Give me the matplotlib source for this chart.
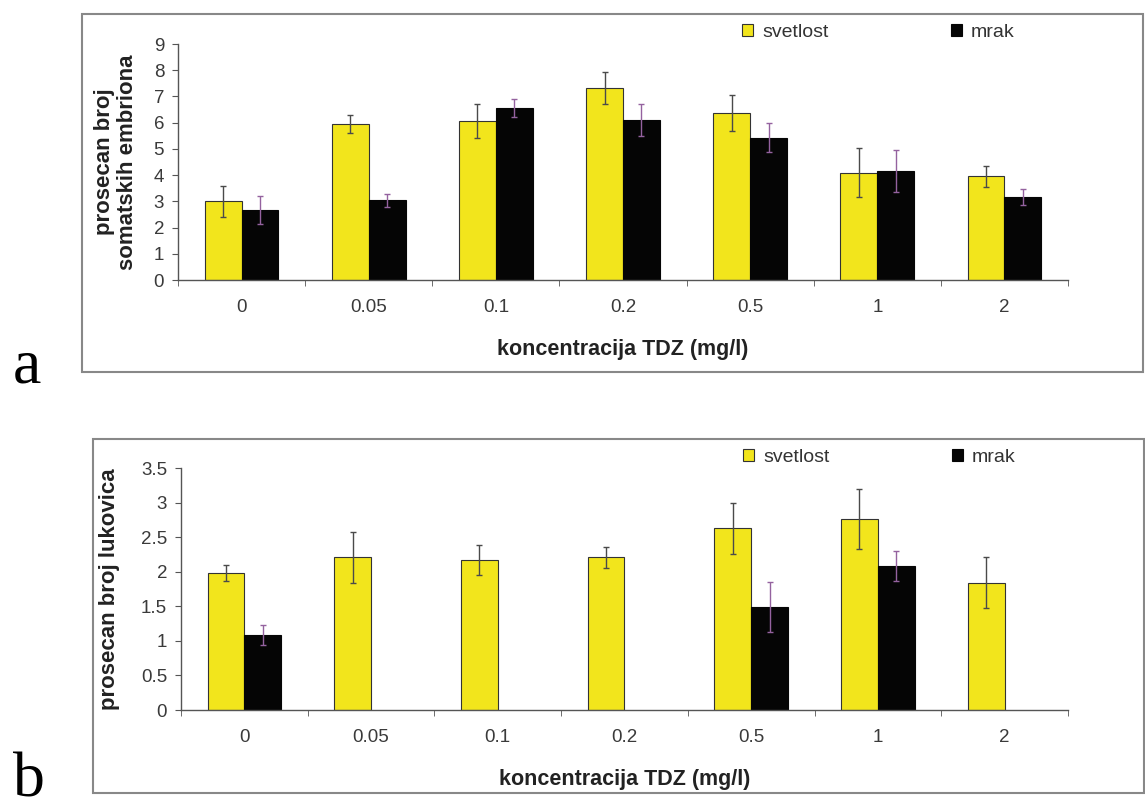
import numpy as np
import matplotlib
matplotlib.use('Agg')
from matplotlib import pyplot as plt
from matplotlib.patches import Rectangle

plt.rcParams['font.family'] = ['Liberation Sans', 'DejaVu Sans']

categories = ['0', '0.05', '0.1', '0.2', '0.5', '1', '2']
series_names = ['svetlost', 'mrak']

# panel a - prosecan broj somatskih embriona
a_svetlost = [3.0, 5.95, 6.05, 7.33, 6.37, 4.1, 3.95]
a_svetlost_err = [0.6, 0.35, 0.65, 0.6, 0.7, 0.95, 0.4]
a_mrak = [2.67, 3.05, 6.55, 6.1, 5.43, 4.17, 3.18]
a_mrak_err = [0.55, 0.25, 0.35, 0.6, 0.55, 0.8, 0.3]

# panel b - prosecan broj lukovica
b_svetlost = [1.98, 2.21, 2.17, 2.21, 2.63, 2.76, 1.84]
b_svetlost_err = [0.12, 0.37, 0.22, 0.15, 0.37, 0.43, 0.37]
b_mrak = [1.085, None, None, None, 1.49, 2.08, None]
b_mrak_err = [0.14, None, None, None, 0.36, 0.22, None]

YELLOW = '#f2e51c'
BLACK = '#050505'


def to_arr(v):
    return np.array([np.nan if x is None else x for x in v], dtype=float)


def draw_panel(fig, rect, box, s1, e1, s2, e2, ymax, ystep, ylabel, ylabel_x,
               leg_y, letter, letter_y, letter_va):
    fig.patches.append(Rectangle(box[:2], box[2], box[3], transform=fig.transFigure,
                                 fill=False, edgecolor='#888888', linewidth=1.5))
    ax = fig.add_axes(rect)
    x = np.arange(len(categories))
    w = 0.29
    s1, e1, s2, e2 = map(to_arr, (s1, e1, s2, e2))
    ax.bar(x - w / 2, s1, w, color=YELLOW, edgecolor='#333333', linewidth=0.8,
           label=series_names[0], zorder=2)
    ax.bar(x + w / 2, s2, w, color=BLACK, edgecolor=BLACK, linewidth=0.8,
           label=series_names[1], zorder=2)
    ax.errorbar(x - w / 2, s1, yerr=e1, fmt='none', ecolor='#4a4a4a',
                elinewidth=1, capsize=2.5, capthick=1, zorder=3)
    ax.errorbar(x + w / 2, s2, yerr=e2, fmt='none', ecolor='#94629f',
                elinewidth=1, capsize=2.5, capthick=1, zorder=3)

    ax.set_xlim(-0.5, len(categories) - 0.5)
    ax.set_ylim(0, ymax)
    yt = np.arange(0, ymax + ystep / 2, ystep)
    ax.set_yticks(yt)
    ax.set_yticklabels([('%g' % v) for v in yt])
    ax.set_xticks(x)
    ax.set_xticklabels(categories)
    ax.set_xticks(np.arange(-0.5, len(categories)), minor=True)
    ax.tick_params(axis='x', which='major', length=0, pad=14, labelsize=13.5,
                   labelcolor='#3a3a3a')
    ax.tick_params(axis='x', which='minor', length=4, direction='out', color='#555555')
    ax.tick_params(axis='y', length=4, direction='out', color='#555555', labelsize=13.5,
                   labelcolor='#3a3a3a', pad=6)
    for side in ('top', 'right'):
        ax.spines[side].set_visible(False)
    for side in ('left', 'bottom'):
        ax.spines[side].set_color('#555555')
        ax.spines[side].set_linewidth(1)
    ax.set_ylabel(ylabel, fontsize=16, fontweight='bold', color='#222222',
                  linespacing=1.15, va='center')
    ax.yaxis.set_label_coords(ylabel_x, 0.5)
    ax.set_xlabel('koncentracija TDZ (mg/l)', fontsize=15.5, fontweight='bold',
                  color='#222222', labelpad=16)

    leg = ax.legend(ncol=2, frameon=False, loc='center left',
                    bbox_to_anchor=(0.634, leg_y), borderaxespad=0, borderpad=0,
                    handlelength=0.57, handleheight=0.57, handletextpad=0.45,
                    columnspacing=6.3, fontsize=14)
    for t in leg.get_texts():
        t.set_color('#333333')

    fig.text(0.011, letter_y, letter, fontsize=46,
             family=['Liberation Serif', 'DejaVu Serif'], va=letter_va, ha='left')
    return ax


fig = plt.figure(figsize=(11.45, 8.11), dpi=100)

draw_panel(fig, [0.1555, 0.6547, 0.7773, 0.291], [0.0716, 0.5413, 0.9266, 0.4414],
           a_svetlost, a_svetlost_err, a_mrak, a_mrak_err, 9, 1,
           'prosecan broj\nsomatskih embriona', -0.0697, 1.051, 'a', 0.528, 'baseline')
draw_panel(fig, [0.158, 0.1245, 0.7747, 0.2984], [0.0812, 0.0222, 0.918, 0.4365],
           b_svetlost, b_svetlost_err, b_mrak, b_mrak_err, 3.5, 0.5,
           'prosecan broj lukovica', -0.080, 1.045, 'b', 0.001, 'bottom')

fig.savefig('out.png', dpi=100)
